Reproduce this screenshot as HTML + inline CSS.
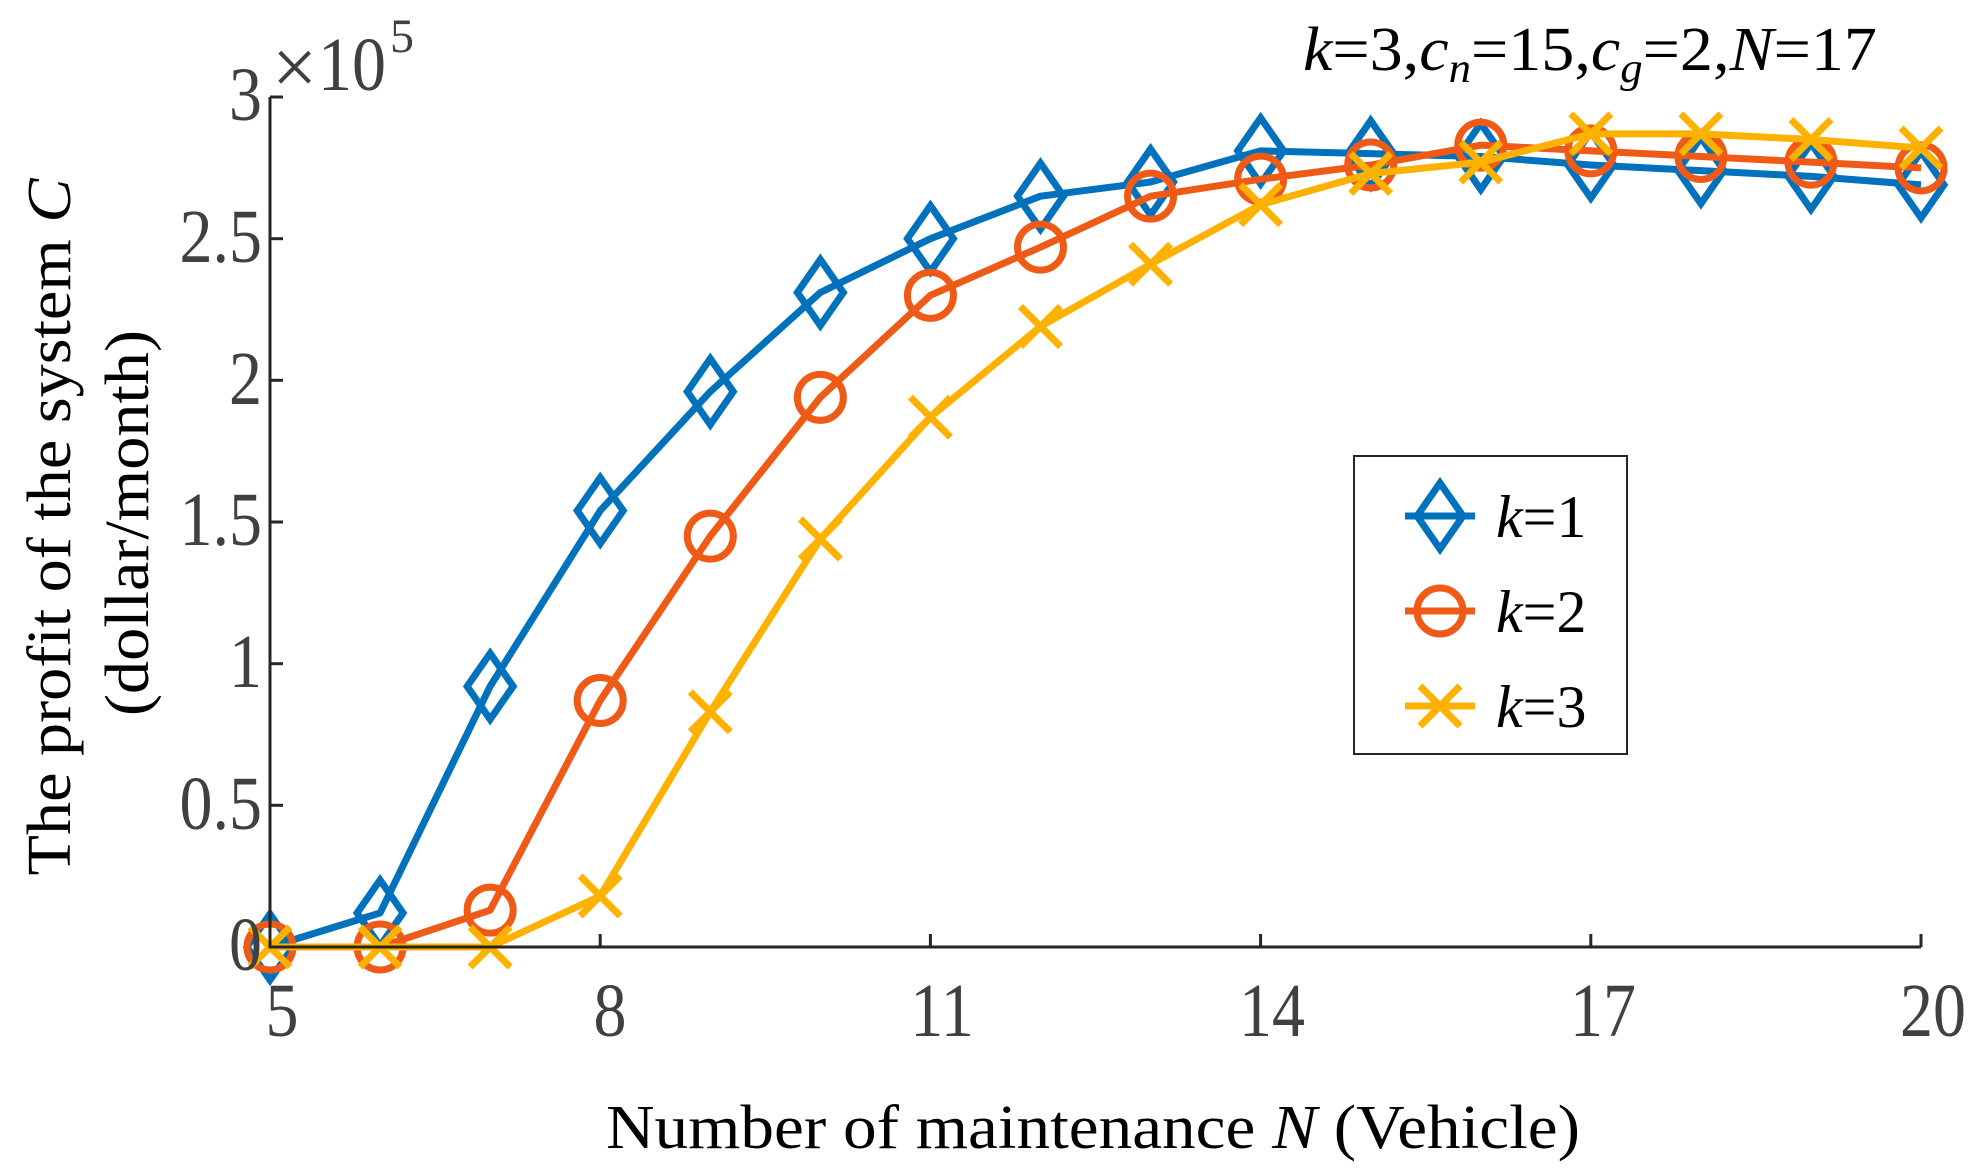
<!DOCTYPE html>
<html><head><meta charset="utf-8"><style>
html,body{margin:0;padding:0;background:#fff;}
svg{display:block;}
</style></head><body>
<svg id="s" width="1988" height="1173" viewBox="0 0 1988 1173" xmlns="http://www.w3.org/2000/svg" font-family="'Liberation Serif', serif">
<rect width="1988" height="1173" fill="#fff"/>
<g id="plot"></g>
<g stroke="#262626" stroke-width="3" fill="none">
<line x1="270" y1="97" x2="270" y2="948"/>
<line x1="268.5" y1="947" x2="1921" y2="947"/>
<line x1="270" y1="97" x2="283" y2="97"/>
<line x1="270" y1="238.7" x2="283" y2="238.7"/>
<line x1="270" y1="380.3" x2="283" y2="380.3"/>
<line x1="270" y1="522" x2="283" y2="522"/>
<line x1="270" y1="663.7" x2="283" y2="663.7"/>
<line x1="270" y1="805.3" x2="283" y2="805.3"/>
<line x1="600.2" y1="947" x2="600.2" y2="934"/>
<line x1="930.4" y1="947" x2="930.4" y2="934"/>
<line x1="1260.6" y1="947" x2="1260.6" y2="934"/>
<line x1="1590.8" y1="947" x2="1590.8" y2="934"/>
<line x1="1921" y1="947" x2="1921" y2="934"/>
</g>
<g fill="#404040" font-size="66" text-anchor="end">
<g transform="translate(0,120) scale(1,1.15)"><text x="262" y="0">3</text></g>
<g transform="translate(0,262) scale(1,1.15)"><text x="262" y="0">2.5</text></g>
<g transform="translate(0,404) scale(1,1.15)"><text x="262" y="0">2</text></g>
<g transform="translate(0,545) scale(1,1.15)"><text x="262" y="0">1.5</text></g>
<g transform="translate(0,687) scale(1,1.15)"><text x="262" y="0">1</text></g>
<g transform="translate(0,829) scale(1,1.15)"><text x="262" y="0">0.5</text></g>
<g transform="translate(0,970) scale(1,1.15)"><text x="262" y="0">0</text></g>
</g>
<g fill="#404040" font-size="66" text-anchor="middle" transform="translate(0,1036) scale(1,1.15)">
<text x="282" y="0">5</text>
<text x="610" y="0">8</text>
<text x="942" y="0">11</text>
<text x="1272" y="0">14</text>
<text x="1603" y="0">17</text>
<text x="1933" y="0">20</text>
</g>
<text x="272" y="94" fill="#404040" font-size="80">×</text>
<text x="0" y="0" fill="#404040" font-size="68" transform="translate(318,90) scale(1,1.12)">10</text>
<text x="390" y="52" fill="#404040" font-size="48">5</text>
<text x="1093" y="1148" font-size="62" text-anchor="middle" textLength="974" lengthAdjust="spacingAndGlyphs">Number of maintenance <tspan font-style="italic">N</tspan> (Vehicle)</text>
<text transform="translate(70,527) rotate(-90)" font-size="62" text-anchor="middle" textLength="697" lengthAdjust="spacingAndGlyphs">The profit of the system <tspan font-style="italic">C</tspan></text>
<text transform="translate(148,523) rotate(-90)" font-size="62" text-anchor="middle" textLength="386" lengthAdjust="spacingAndGlyphs">(dollar/month)</text>
<text x="1303" y="70" font-size="62" textLength="574" lengthAdjust="spacingAndGlyphs"><tspan font-style="italic">k</tspan>=3,<tspan font-style="italic">c</tspan><tspan font-style="italic" font-size="42" dy="12">n</tspan><tspan dy="-12">=15,</tspan><tspan font-style="italic">c</tspan><tspan font-style="italic" font-size="42" dy="12">g</tspan><tspan dy="-12">=2,</tspan><tspan font-style="italic">N</tspan>=17</text>
<rect x="1354" y="456" width="273" height="298" fill="#fff" stroke="#262626" stroke-width="2"/>
<g id="leg"></g>
<g font-size="60" fill="#000">
<text x="1496" y="537"><tspan font-style="italic">k</tspan>=1</text>
<text x="1496" y="632"><tspan font-style="italic">k</tspan>=2</text>
<text x="1496" y="727"><tspan font-style="italic">k</tspan>=3</text>
</g>
<script>
(function(){
var NS="http://www.w3.org/2000/svg";
function X(n){return 270+(n-5)*110.07;}
function Y(v){return 947-v*283.33;}
var data=[
[0,0.12,0.92,1.54,1.96,2.31,2.50,2.65,2.70,2.81,2.80,2.79,2.76,2.74,2.72,2.69],
[0,0,0.13,0.87,1.45,1.94,2.30,2.47,2.65,2.71,2.76,2.83,2.81,2.79,2.77,2.75],
[0,0,0,0.18,0.83,1.44,1.87,2.19,2.41,2.62,2.73,2.77,2.87,2.87,2.85,2.82]];
var col=["#0072BD","#EF5A17","#FFB100"];
var W=7;
var g=document.getElementById("plot"),lg=document.getElementById("leg");
function el(t,a,p){var e=document.createElementNS(NS,t);for(var k in a)e.setAttribute(k,a[k]);p.appendChild(e);return e;}
function marker(i,x,y,p){
 var s={fill:"none",stroke:col[i],"stroke-width":W};
 if(i==0){s.points=(x)+","+(y-33)+" "+(x+23)+","+y+" "+x+","+(y+33)+" "+(x-23)+","+y;el("polygon",s,p);}
 else if(i==1){s.cx=x;s.cy=y;s.r=23;el("circle",s,p);}
 else{s.d="M"+(x-20)+","+(y-20)+"L"+(x+20)+","+(y+20)+"M"+(x+20)+","+(y-20)+"L"+(x-20)+","+(y+20);el("path",s,p);}
}
for(var i=0;i<3;i++){
 var pts=data[i].map(function(v,j){return X(j+5)+","+Y(v);}).join(" ");
 el("polyline",{points:pts,fill:"none",stroke:col[i],"stroke-width":W,"stroke-linejoin":"round"},g);
 data[i].forEach(function(v,j){marker(i,X(j+5),Y(v),g);});
 var ly=516+i*95;
 el("line",{x1:1405,y1:ly,x2:1475,y2:ly,stroke:col[i],"stroke-width":W},lg);
 marker(i,1440,ly,lg);
}
})();
</script>
</svg>
</body></html>
